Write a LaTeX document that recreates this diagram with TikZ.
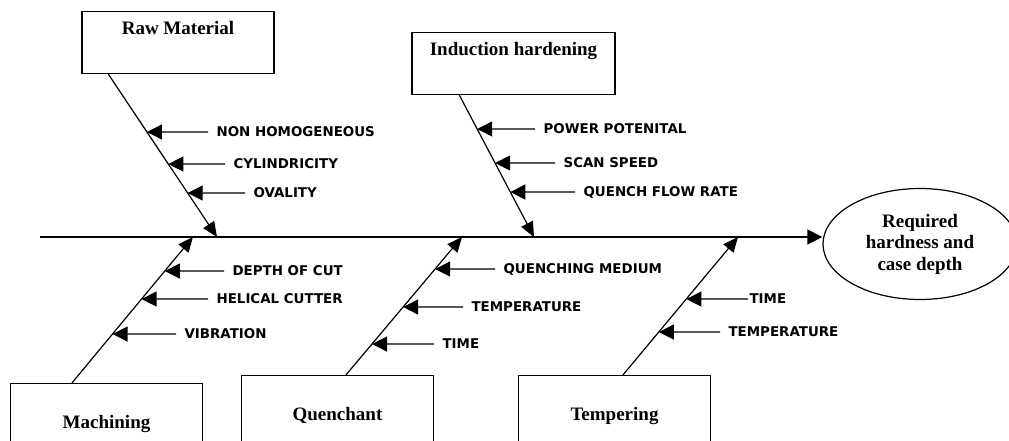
\documentclass[tikz,border=0pt]{standalone}
\usepackage{fontspec}
\setmainfont{Liberation Serif}
\newfontfamily\labelfont{DejaVu Sans}
\usetikzlibrary{arrows.meta, shapes.geometric}

\begin{document}
\begin{tikzpicture}[x=1pt, y=-1pt, line width=1.2pt,
   cause box/.style={draw, rectangle, anchor=north, inner sep=0pt, minimum width=192pt, font=\fontsize{19}{21.5}\selectfont\bfseries},
   top box/.style={cause box, text height=23pt, text depth=39pt},
   bottom box/.style={cause box, text height=45pt, text depth=35pt},
   cause/.style={anchor=west, inner sep=0pt, text height=9.8pt, text depth=0pt, font=\labelfont\fontsize{13.4}{16}\selectfont\bfseries},
   spine/.style={line width=1.3pt, -{Triangle[length=15pt,width=15pt]}},
   bone/.style={-{Triangle[length=15pt,width=13pt]}},
   cause arrow/.style={-{Triangle[length=15pt,width=15pt]}}]
   \useasboundingbox (0,0) rectangle (1009,440);
   \clip (0,0) rectangle (1009,440);

   % effect and spine
   \node[ellipse, draw, minimum width=194pt, minimum height=111pt, inner sep=0pt, align=center, font=\fontsize{19}{21.5}\selectfont\bfseries] (eff) at (920,244) {Required\\hardness and\\case depth};
   \coordinate (tail) at (40,237);
   \draw[spine] (tail) -- (eff.west |- tail);

   % cause boxes
   \node[top box] (raw) at (178,11) {Raw Material};
   \node[top box, minimum width=203pt] (ind) at (513.5,32) {Induction hardening};
   \node[bottom box] (mach) at (106.5,383) {Machining};
   \node[bottom box] (quen) at (337.5,375) {Quenchant};
   \node[bottom box] (temp) at (614.5,375) {Tempering};

   % bones
   \coordinate (rb) at ([xshift=27pt]raw.south west);
   \coordinate (rj) at (217,237);
   \coordinate (ib) at ([xshift=48pt]ind.south west);
   \coordinate (ij) at (534,237);
   \coordinate (mb) at ([xshift=62pt]mach.north west);
   \coordinate (mj) at (193,237);
   \coordinate (qb) at ([xshift=105pt]quen.north west);
   \coordinate (qj) at (462,237);
   \coordinate (tb) at ([xshift=105pt]temp.north west);
   \coordinate (tj) at (738,237);
   \draw[bone] (rb) -- (rj);
   \draw[bone] (ib) -- (ij);
   \draw[bone] (mb) -- (mj);
   \draw[bone] (qb) -- (qj);
   \draw[bone] (tb) -- (tj);

   % raw material
   \node[cause] (r1) at (216,132) {NON HOMOGENEOUS};
   \node[cause] (r2) at (233,164) {CYLINDRICITY};
   \node[cause] (r3) at (253,193) {OVALITY};
   \draw[cause arrow] ([xshift=-8pt]r1.west) -- (intersection of rb--rj and r1.west--r1.east);
   \draw[cause arrow] ([xshift=-8pt]r2.west) -- (intersection of rb--rj and r2.west--r2.east);
   \draw[cause arrow] ([xshift=-8pt]r3.west) -- (intersection of rb--rj and r3.west--r3.east);

   % induction hardening
   \node[cause] (i1) at (543,129) {POWER POTENITAL};
   \node[cause] (i2) at (563,163) {SCAN SPEED};
   \node[cause] (i3) at (583,192) {QUENCH FLOW RATE};
   \draw[cause arrow] ([xshift=-8pt]i1.west) -- (intersection of ib--ij and i1.west--i1.east);
   \draw[cause arrow] ([xshift=-8pt]i2.west) -- (intersection of ib--ij and i2.west--i2.east);
   \draw[cause arrow] ([xshift=-8pt]i3.west) -- (intersection of ib--ij and i3.west--i3.east);

   % machining
   \node[cause] (m1) at (232,271) {DEPTH OF CUT};
   \node[cause] (m2) at (216,299) {HELICAL CUTTER};
   \node[cause] (m3) at (184,334) {VIBRATION};
   \draw[cause arrow] ([xshift=-8pt]m1.west) -- (intersection of mb--mj and m1.west--m1.east);
   \draw[cause arrow] ([xshift=-8pt]m2.west) -- (intersection of mb--mj and m2.west--m2.east);
   \draw[cause arrow] ([xshift=-8pt]m3.west) -- (intersection of mb--mj and m3.west--m3.east);

   % quenchant
   \node[cause] (q1) at (503,269) {QUENCHING MEDIUM};
   \node[cause] (q2) at (471,307) {TEMPERATURE};
   \node[cause] (q3) at (442,344) {TIME};
   \draw[cause arrow] ([xshift=-8pt]q1.west) -- (intersection of qb--qj and q1.west--q1.east);
   \draw[cause arrow] ([xshift=-8pt]q2.west) -- (intersection of qb--qj and q2.west--q2.east);
   \draw[cause arrow] ([xshift=-8pt]q3.west) -- (intersection of qb--qj and q3.west--q3.east);

   % tempering
   \node[cause] (t1) at (749,299) {TIME};
   \node[cause] (t2) at (728,332) {TEMPERATURE};
   \draw[cause arrow] ([xshift=-1pt]t1.west) -- (intersection of tb--tj and t1.west--t1.east);
   \draw[cause arrow] ([xshift=-8pt]t2.west) -- (intersection of tb--tj and t2.west--t2.east);
\end{tikzpicture}
\end{document}
